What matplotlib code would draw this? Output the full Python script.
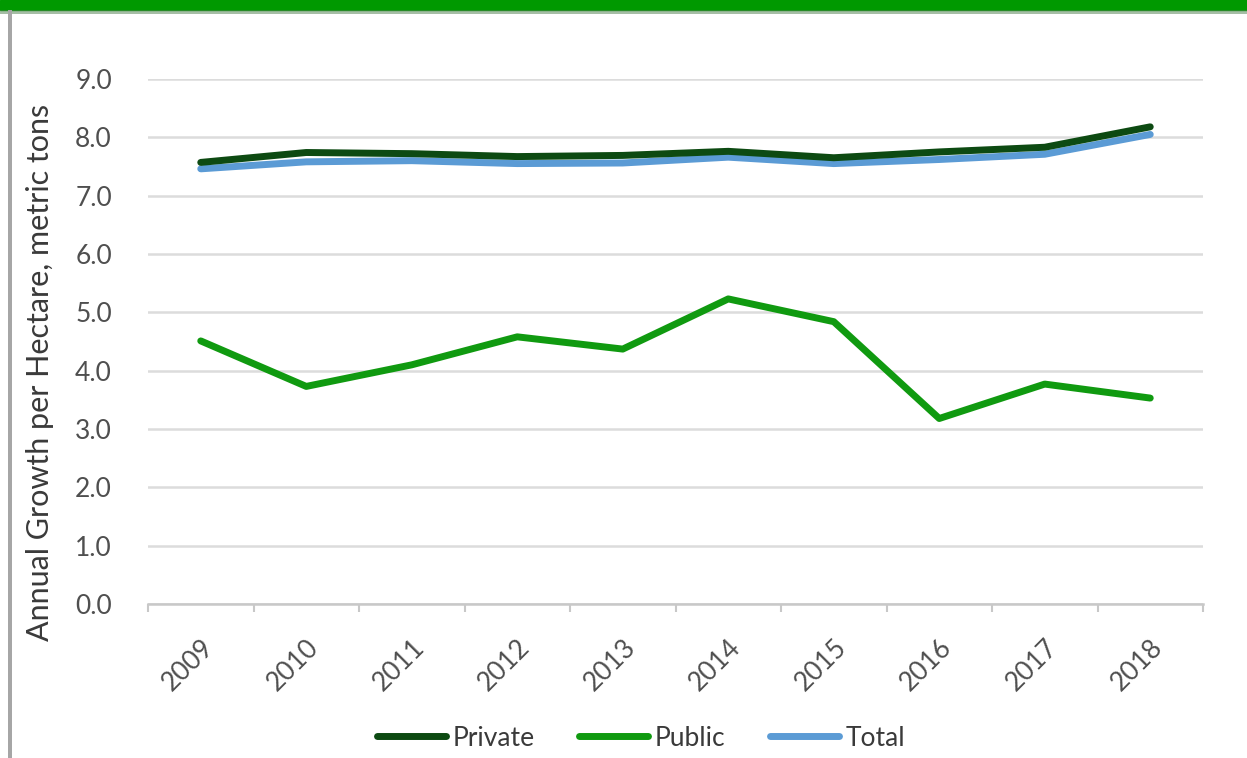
"""Annual growth per hectare: private vs public vs total forest land, 2009-2018."""

import matplotlib

matplotlib.use("Agg")
import matplotlib.pyplot as plt
import numpy as np
from matplotlib.patches import Rectangle

YEARS = ["2009", "2010", "2011", "2012", "2013", "2014", "2015", "2016", "2017", "2018"]
PRIVATE = [7.57, 7.74, 7.72, 7.67, 7.69, 7.76, 7.65, 7.75, 7.83, 8.18]
PUBLIC = [4.51, 3.73, 4.10, 4.58, 4.37, 5.23, 4.84, 3.18, 3.77, 3.53]
TOTAL = [7.46, 7.58, 7.60, 7.55, 7.56, 7.66, 7.55, 7.62, 7.71, 8.05]
Y_TICKS = [0, 1, 2, 3, 4, 5, 6, 7, 8, 9]

YLABEL = "Annual Growth per Hectare, metric tons"
TEXT_COLOR = "#4f4f4f"

plt.rcParams["font.family"] = ["Lato", "DejaVu Sans"]

fig = plt.figure(figsize=(12.47, 7.58), dpi=100)
ax = fig.add_axes([148 / 1247, 1 - 604 / 758, (1203 - 148) / 1247, (604 - 79) / 758])

x = np.arange(len(YEARS))
ax.plot(x, TOTAL, color="#5b9bd5", lw=5, solid_capstyle="round", label="Total", zorder=3)
ax.plot(x, PUBLIC, color="#109a10", lw=5, solid_capstyle="round", label="Public", zorder=4)
ax.plot(x, PRIVATE, color="#0d4a12", lw=5, solid_capstyle="round", label="Private", zorder=5)

ax.set_xlim(-0.5, len(YEARS) - 0.5)
ax.set_ylim(0, 9)
ax.set_yticks(Y_TICKS)
ax.set_yticklabels([f"{v:.1f}" for v in Y_TICKS])
ax.set_xticks(x)
ax.set_xticklabels(YEARS)
ax.set_xticks(np.arange(-0.5, len(YEARS)), minor=True)
plt.setp(ax.get_xticklabels(), rotation=45, ha="right", va="top", rotation_mode="anchor")

ax.tick_params(axis="x", which="major", length=0, pad=22, labelsize=19, labelcolor=TEXT_COLOR)
ax.tick_params(axis="x", which="minor", length=6, width=1.5, color="#c8c8c8", direction="out")
ax.tick_params(axis="y", length=0, pad=26, labelsize=19, labelcolor=TEXT_COLOR)

ax.grid(axis="y", color="#dcdcdc", lw=1.8)
ax.set_axisbelow(True)
for side in ("top", "right", "left"):
    ax.spines[side].set_visible(False)
ax.spines["bottom"].set_color("#c8c8c8")
ax.spines["bottom"].set_linewidth(1.8)

fig.text(40 / 1247, 1 - 372 / 758, YLABEL, rotation=90, ha="center", va="center",
         fontsize=22, color="#3a3a3a")

handles, labels = ax.get_legend_handles_labels()
order = [2, 1, 0]
fig.legend([handles[i] for i in order], [labels[i] for i in order],
           loc="center", bbox_to_anchor=(641 / 1247, 1 - 738 / 758), ncol=3,
           frameon=False, fontsize=19, handlelength=2.6, handletextpad=0.25,
           columnspacing=1.7, labelcolor="#3a3a3a")

# frame decorations: green header bar and grey left border
fig.patches.append(Rectangle((0, 1 - 10 / 758), 1, 10 / 758, transform=fig.transFigure,
                             color="#009900", zorder=10))
fig.patches.append(Rectangle((0, 1 - 14 / 758), 1, 4 / 758, transform=fig.transFigure,
                             color="#4f7f4f", alpha=0.5, zorder=10, lw=0))
fig.patches.append(Rectangle((8 / 1247, 0), 4 / 1247, 1 - 10 / 758, transform=fig.transFigure,
                             color="#a6a6a6", zorder=10, lw=0))

fig.savefig("out.png", dpi=100)
